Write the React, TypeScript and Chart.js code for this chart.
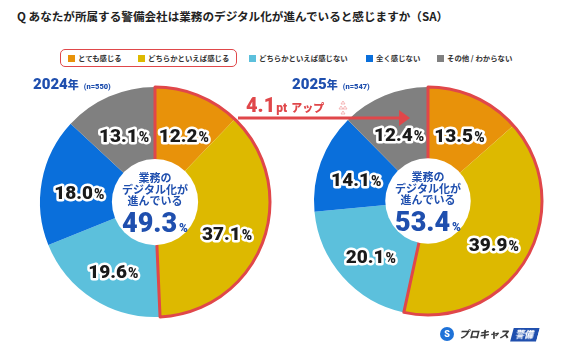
import React, { useEffect, useRef } from "react";
import { Chart, registerables } from "chart.js";
Chart.register(...registerables);

const categories = ["とても感じる", "どちらかといえば感じる", "どちらかといえば感じない", "全く感じない", "その他 / わからない"];
const colors = ["#E8920A", "#DDB900", "#5CC0DC", "#0A6FDB", "#808080"];
const values2024 = [12.2, 37.1, 19.6, 18.0, 13.1];
const values2025 = [13.5, 39.9, 20.1, 14.1, 12.4];
const positive2024 = "49.3";
const positive2025 = "53.4";
const yearLabels = ["2024年", "2025年"];
const sampleLabels = ["(n=550)", "(n=547)"];
const centerLines = ["業務の", "デジタル化が", "進んでいる"];
const diffLabel = "4.1";

const RED = "#E0474A";
const NAVY = "#1F4FAE";

function makePlugin(total: string) {
  return {
    id: "decor",
    afterDatasetsDraw(chart: any) {
      const ctx: CanvasRenderingContext2D = chart.ctx;
      const arcs = chart.getDatasetMeta(0).data as any[];
      const a0 = arcs[0];
      const x = a0.x, y = a0.y, R = a0.outerRadius;
      ctx.save();
      // highlight outline of first two slices
      ctx.beginPath();
      ctx.moveTo(x, y);
      ctx.arc(x, y, R, a0.startAngle, arcs[1].endAngle);
      ctx.closePath();
      ctx.strokeStyle = RED;
      ctx.lineWidth = 3;
      ctx.lineJoin = "round";
      ctx.stroke();
      // white centre
      ctx.beginPath();
      ctx.arc(x, y, R * 0.375, 0, Math.PI * 2);
      ctx.fillStyle = "#fff";
      ctx.fill();
      // centre text
      ctx.fillStyle = NAVY;
      ctx.textAlign = "center";
      ctx.textBaseline = "middle";
      ctx.font = "bold 11px 'Noto Sans CJK JP'";
      centerLines.forEach((t, i) => ctx.fillText(t, x, y - 24 + i * 11.5));
      ctx.font = "900 27px Roboto";
      const wNum = ctx.measureText(total).width;
      ctx.font = "900 12px Roboto";
      const wPct = ctx.measureText("%").width;
      const sx = x - (wNum + wPct + 2) / 2;
      ctx.textAlign = "left";
      ctx.textBaseline = "alphabetic";
      ctx.font = "900 27px Roboto";
      ctx.fillText(total, sx, y + 30);
      ctx.font = "900 12px Roboto";
      ctx.fillText("%", sx + wNum + 2, y + 30);
      // slice labels
      const data = chart.data.datasets[0].data as number[];
      arcs.forEach((arc: any, i: number) => {
        const mid = (arc.startAngle + arc.endAngle) / 2;
        const r = R * 0.67;
        const lx = x + Math.cos(mid) * r;
        const ly = y + Math.sin(mid) * r + 4;
        const num = data[i].toFixed(1);
        ctx.font = "900 19px Roboto";
        const wn = ctx.measureText(num).width;
        ctx.font = "900 14px Roboto";
        const wp = ctx.measureText("%").width;
        const bx = lx - (wn + wp + 1) / 2;
        const by = ly + 7;
        ctx.lineJoin = "round";
        ctx.strokeStyle = "#fff";
        ctx.lineWidth = 5;
        ctx.fillStyle = "#1a1a1a";
        ctx.font = "900 19px Roboto";
        ctx.strokeText(num, bx, by);
        ctx.fillText(num, bx, by);
        ctx.font = "900 14px Roboto";
        ctx.strokeText("%", bx + wn + 1, by);
        ctx.fillText("%", bx + wn + 1, by);
      });
      ctx.restore();
    },
  };
}

function Pie({ values, total, left, top, pad }: { values: number[]; total: string; left: number; top: number; pad: number }) {
  const ref = useRef<HTMLCanvasElement>(null);
  useEffect(() => {
    const chart = new Chart(ref.current!, {
      type: "pie",
      data: {
        labels: categories,
        datasets: [{ data: values, backgroundColor: colors, borderWidth: 0, hoverBorderWidth: 0, hoverOffset: 0 }],
      },
      options: {
        responsive: false,
        animation: false,
        events: [],
        layout: { padding: pad },
        plugins: { legend: { display: false }, tooltip: { enabled: false } },
      },
      plugins: [makePlugin(total)],
    });
    return () => chart.destroy();
  }, []);
  return <canvas ref={ref} width={240} height={240} style={{ position: "absolute", left, top, width: 240, height: 240 }} />;
}

const abs = (o: any) => ({ position: "absolute" as const, ...o });

export default function App() {
  useEffect(() => {
    document.body.style.margin = "0";
  }, []);
  const legendPos = [68, 138, 249, 366, 437];
  return (
    <div style={{ position: "relative", width: 580, height: 351, background: "#fff", overflow: "hidden", fontFamily: "'Noto Sans CJK JP', sans-serif" }}>
      <div style={abs({ left: 17, top: 7, fontSize: 11.6, fontWeight: 700, color: "#222", whiteSpace: "nowrap", lineHeight: "18px" })}>
        Q あなたが所属する警備会社は業務のデジタル化が進んでいると感じますか（SA）
      </div>
      <div style={abs({ left: 60, top: 49, width: 177, height: 18, border: `1px solid ${RED}`, borderRadius: 5, boxSizing: "border-box" })} />
      {categories.map((c, i) => (
        <div key={c} style={abs({ left: legendPos[i], top: 52, display: "flex", alignItems: "center", whiteSpace: "nowrap", fontSize: 7.4, fontWeight: 700, color: "#333", lineHeight: "12px" })}>
          <span style={{ display: "inline-block", width: 7, height: 7, background: colors[i], marginRight: 3 }} />
          {c}
        </div>
      ))}
      <Pie values={values2024} total={positive2024} left={35} top={82} pad={5} />
      <Pie values={values2025} total={positive2025} left={308} top={81} pad={6} />
      {[33, 292].map((lx, i) => (
        <div key={lx} style={abs({ left: lx, top: 72, whiteSpace: "nowrap", color: NAVY, fontWeight: 900, lineHeight: "20px" })}>
          <span style={{ fontFamily: "Roboto", fontSize: 15 }}>{yearLabels[i].slice(0, 4)}</span>
          <span style={{ fontSize: 11 }}>{yearLabels[i].slice(4)}</span>
          <span style={{ fontFamily: "Roboto", fontSize: 7.5, marginLeft: 5 }}>{sampleLabels[i]}</span>
        </div>
      ))}
      <svg width={580} height={351} style={abs({ left: 0, top: 0 })}>
        <line x1={238} y1={118} x2={402} y2={118} stroke={RED} strokeWidth={3} />
        <polygon points="399,110 410,118 399,126" fill={RED} />
        <polygon points="341,104 343,101 345,104" fill="none" stroke="#F2A7A8" strokeWidth={0.8} />
        <polygon points="339,109 341,106 343,109" fill="none" stroke="#F2A7A8" strokeWidth={0.8} />
        <polygon points="343,109 345,106 347,109" fill="none" stroke="#F2A7A8" strokeWidth={0.8} />
        <polygon points="341,114 343,111 345,114" fill="none" stroke="#F2A7A8" strokeWidth={0.8} />
      </svg>
      <div style={abs({ left: 246, top: 95, whiteSpace: "nowrap", color: RED, fontWeight: 900, lineHeight: "20px" })}>
        <span style={{ fontFamily: "Roboto", fontSize: 20 }}>{diffLabel}</span>
        <span style={{ fontFamily: "Roboto", fontSize: 12, marginLeft: 1 }}>pt</span>
        <span style={{ fontSize: 11, marginLeft: 4 }}>アップ</span>
      </div>
      <div style={abs({ left: 440, top: 327, display: "flex", alignItems: "center", whiteSpace: "nowrap" })}>
        <span style={{ display: "inline-block", width: 14, height: 14, borderRadius: 7, background: "#1E72D8", color: "#fff", fontSize: 9, fontWeight: 900, textAlign: "center", lineHeight: "14px", fontFamily: "Roboto" }}>S</span>
        <span style={{ fontSize: 10, fontWeight: 900, fontStyle: "italic", color: "#3a3a3a", marginLeft: 5, lineHeight: "14px" }}>プロキャス</span>
        <span style={{ display: "inline-block", marginLeft: 3, background: NAVY, color: "#fff", fontSize: 9, fontWeight: 900, padding: "0 4px", lineHeight: "13px", transform: "skewX(-15deg)" }}>警備</span>
      </div>
    </div>
  );
}
